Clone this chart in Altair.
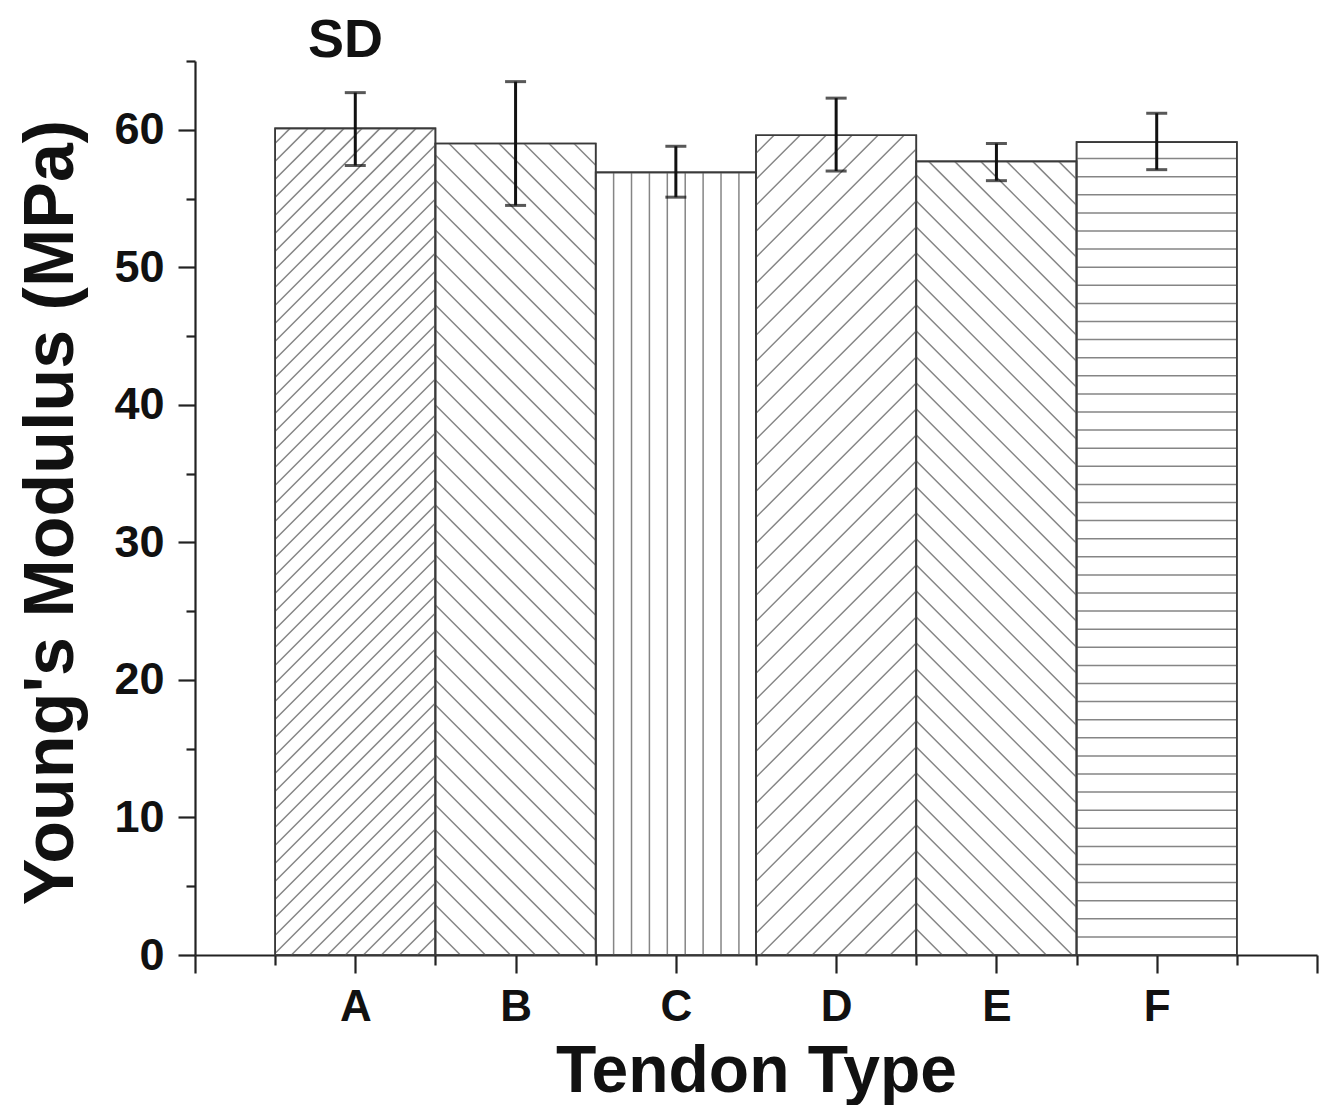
import altair as alt
import pandas as pd

# ---- data ----
categories = ["A", "B", "C", "D", "E", "F"]
means = [60.1, 59.0, 56.9, 59.6, 57.7, 59.1]
err_low = [57.4, 54.5, 55.1, 57.0, 56.3, 57.1]
err_high = [62.7, 63.5, 58.8, 62.3, 59.0, 61.2]
panel_label = ["SD"]

# ---- styles (hatch pattern per bar, spacing in px) ----
patterns = ["fwd", "back", "vert", "fwd", "back", "horiz"]
spacing = [18, 25, 17.9, 26, 26, 18.1]

W, H = 1122, 894
XMAX, YMAX = 7, 65
XS = W / XMAX
YS = H / YMAX
FONT = "Liberation Sans"

df = pd.DataFrame({
    "cat": categories,
    "pos": [i + 1 for i in range(len(categories))],
    "mean": means,
    "lo": err_low,
    "hi": err_high,
    "pat": patterns,
    "sp": spacing,
})
df["left"] = df["pos"] - 0.5
df["right"] = df["pos"] + 0.5

base = alt.Chart(df)

label_arr = "[" + ",".join(f"'{c}'" for c in categories) + "]"
x_axis = alt.Axis(
    title="Tendon Type",
    values=[v / 2 for v in range(0, 15)],
    labelExpr=f"(datum.value % 1 == 0 && datum.value >= 1 && datum.value <= {len(categories)}) ? {label_arr}[datum.value - 1] : ''",
    tickSize={"condition": {"test": "datum.value % 1 == 0", "value": 18}, "value": 10},
    labelPadding=12,
    labelFont=FONT, labelFontSize=44, labelFontWeight="bold", labelColor="#111",
    titleFont=FONT, titleFontSize=66, titleFontWeight="bold", titleColor="#111",
    titleBaseline="alphabetic", titleY=136,
    grid=False, labelFlush=False, labelOverlap=False,
)
y_axis = alt.Axis(
    title="Young's Modulus (MPa)",
    values=list(range(0, 66, 5)),
    labelExpr="datum.value % 10 == 0 ? datum.label : ''",
    tickSize={"condition": {"test": "datum.value % 10 == 0", "value": 17}, "value": 9},
    labelPadding=14,
    labelFont=FONT, labelFontSize=45, labelFontWeight="bold", labelColor="#111",
    titleFont=FONT, titleFontSize=70, titleFontWeight="bold", titleColor="#111",
    titleBaseline="alphabetic", titleX=-123, titleY=451, titleAngle=270,
    grid=False, labelFlush=False, labelOverlap=False,
)

xscale = alt.Scale(domain=[0, XMAX], nice=False, zero=False)
yscale = alt.Scale(domain=[0, YMAX], nice=False)


def X(field):
    return alt.X(field, scale=xscale, axis=x_axis)


def Y(field):
    return alt.Y(field, scale=yscale, axis=y_axis)


bars = base.mark_rect(fill="white", stroke="#3a3a3a", strokeWidth=1.6).encode(
    x=X("left:Q"), x2="right:Q", y=Y("mean:Q"), y2=alt.datum(0),
)

hatch = (
    base.transform_calculate(k="sequence(1, 90)")
    .transform_flatten(["k"])
    .transform_calculate(Wp=f"{XS}")
    .transform_calculate(Hp=f"datum.mean * {YS}")
    .transform_calculate(c="datum.pat == 'fwd' ? datum.Wp - datum.sp * datum.k : datum.sp * datum.k")
    .transform_calculate(
        u1="datum.pat == 'fwd' ? max(0, datum.c) : datum.pat == 'back' ? max(0, datum.c - datum.Hp) : datum.pat == 'vert' ? datum.c : 0"
    )
    .transform_calculate(
        u2="datum.pat == 'fwd' ? min(datum.Wp, datum.c + datum.Hp) : datum.pat == 'back' ? min(datum.Wp, datum.c) : datum.pat == 'vert' ? datum.c : datum.Wp"
    )
    .transform_calculate(
        v1="datum.pat == 'fwd' ? datum.u1 - datum.c : datum.pat == 'back' ? datum.c - datum.u1 : datum.pat == 'vert' ? 0 : datum.c"
    )
    .transform_calculate(
        v2="datum.pat == 'fwd' ? datum.u2 - datum.c : datum.pat == 'back' ? datum.c - datum.u2 : datum.pat == 'vert' ? datum.Hp : datum.c"
    )
    .transform_filter(
        "(datum.pat == 'fwd' || datum.pat == 'back') ? datum.u1 < datum.u2 - 0.5 : datum.pat == 'vert' ? datum.c < datum.Wp - 1 : datum.c < datum.Hp - 1"
    )
    .transform_calculate(hx1=f"datum.left + datum.u1 / {XS}")
    .transform_calculate(hx2=f"datum.left + datum.u2 / {XS}")
    .transform_calculate(hy1=f"datum.v1 / {YS}")
    .transform_calculate(hy2=f"datum.v2 / {YS}")
    .mark_rule(color="#858585", strokeWidth=1.5)
    .encode(x=X("hx1:Q"), x2="hx2:Q", y=Y("hy1:Q"), y2="hy2:Q")
)

outline = base.mark_rect(fillOpacity=0, stroke="#3a3a3a", strokeWidth=1.6).encode(
    x=X("left:Q"), x2="right:Q", y=Y("mean:Q"), y2=alt.datum(0),
)

err = base.mark_rule(color="#111", strokeWidth=3).encode(
    x=X("pos:Q"), y=Y("lo:Q"), y2="hi:Q",
)

caps = base.transform_fold(["lo", "hi"], as_=["end", "val"]).mark_tick(
    orient="horizontal", size=21, thickness=3, color="#111"
).encode(x=X("pos:Q"), y=Y("val:Q"))

label = alt.Chart(pd.DataFrame({"label": panel_label})).mark_text(
    align="left", baseline="alphabetic", fontSize=54, font=FONT,
    fontWeight="bold", color="#111",
).encode(text="label:N", x=alt.value(113), y=alt.value(-4))

chart = (
    alt.layer(bars, hatch, outline, err, caps, label)
    .properties(
        width=W,
        height=H,
        autosize=alt.AutoSizeParams(type="none"),
        padding={"left": 187, "top": 53, "right": 8, "bottom": 150},
    )
    .configure_view(stroke=None)
    .configure_axis(domainColor="#222", domainWidth=2.2, tickColor="#222", tickWidth=2.2)
)

chart.save("out.html", embed_options={"renderer": "svg", "actions": False})
